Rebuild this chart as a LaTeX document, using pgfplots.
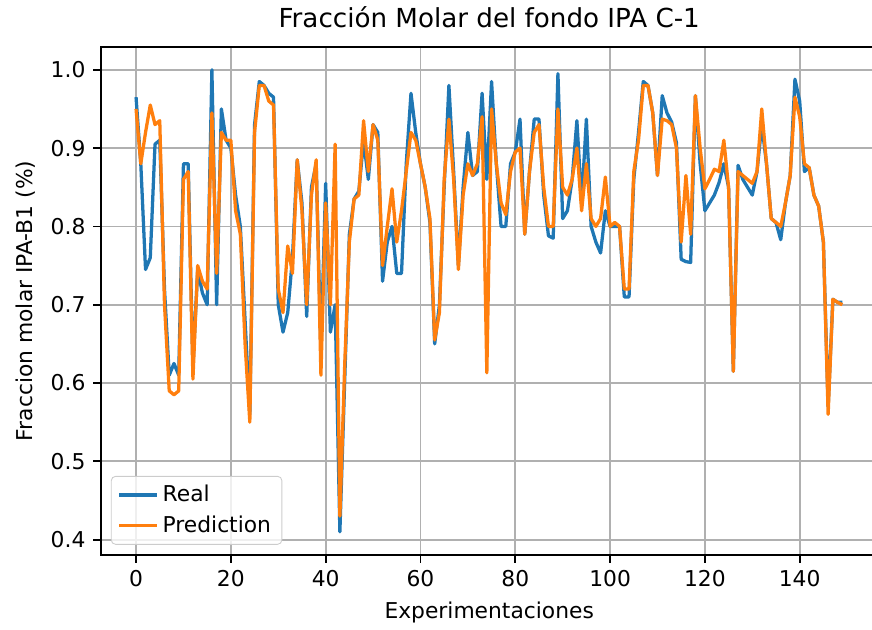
\documentclass[border=0pt]{standalone}
\usepackage{pgfplots}
\usepackage{pgfplotstable}
\usepackage{fontspec}
\setmainfont{DejaVu Sans}
\pgfplotsset{compat=1.18}

\definecolor{mplblue}{HTML}{1F77B4}
\definecolor{mplorange}{HTML}{FF7F0E}
\definecolor{gridgray}{HTML}{B0B0B0}

% x: experiment index, R: measured value, P: model prediction
\pgfplotstableread{
x R P
0 0.965 0.950
1 0.880 0.880
2 0.745 0.920
3 0.760 0.955
4 0.905 0.930
5 0.910 0.935
6 0.720 0.700
7 0.610 0.590
8 0.625 0.585
9 0.610 0.590
10 0.880 0.860
11 0.880 0.870
12 0.620 0.605
13 0.745 0.750
14 0.715 0.730
15 0.700 0.720
16 1.000 0.945
17 0.700 0.740
18 0.950 0.920
19 0.910 0.910
20 0.900 0.910
21 0.840 0.820
22 0.800 0.790
23 0.680 0.650
24 0.560 0.550
25 0.930 0.920
26 0.985 0.980
27 0.980 0.980
28 0.970 0.960
29 0.965 0.955
30 0.700 0.720
31 0.665 0.690
32 0.690 0.775
33 0.760 0.740
34 0.885 0.885
35 0.830 0.820
36 0.685 0.700
37 0.850 0.840
38 0.880 0.885
39 0.640 0.610
40 0.855 0.830
41 0.665 0.700
42 0.700 0.905
43 0.410 0.430
44 0.600 0.620
45 0.790 0.780
46 0.835 0.835
47 0.845 0.840
48 0.910 0.935
49 0.860 0.870
50 0.930 0.930
51 0.920 0.910
52 0.730 0.750
53 0.780 0.800
54 0.800 0.848
55 0.740 0.780
56 0.740 0.820
57 0.880 0.870
58 0.970 0.920
59 0.920 0.910
60 0.880 0.880
61 0.850 0.850
62 0.805 0.810
63 0.650 0.655
64 0.700 0.690
65 0.850 0.860
66 0.980 0.937
67 0.870 0.860
68 0.750 0.745
69 0.850 0.840
70 0.920 0.880
71 0.865 0.865
72 0.870 0.880
73 0.970 0.940
74 0.860 0.613
75 0.985 0.950
76 0.880 0.880
77 0.800 0.830
78 0.800 0.815
79 0.880 0.870
80 0.895 0.895
81 0.937 0.900
82 0.790 0.790
83 0.870 0.870
84 0.937 0.920
85 0.937 0.930
86 0.840 0.850
87 0.788 0.800
88 0.785 0.800
89 0.995 0.950
90 0.810 0.850
91 0.820 0.840
92 0.860 0.860
93 0.935 0.900
94 0.830 0.820
95 0.937 0.880
96 0.800 0.810
97 0.780 0.800
98 0.766 0.810
99 0.820 0.863
100 0.800 0.800
101 0.800 0.805
102 0.800 0.800
103 0.710 0.720
104 0.710 0.720
105 0.860 0.870
106 0.920 0.910
107 0.985 0.980
108 0.980 0.980
109 0.945 0.945
110 0.865 0.865
111 0.967 0.937
112 0.945 0.935
113 0.933 0.930
114 0.907 0.900
115 0.758 0.780
116 0.755 0.865
117 0.754 0.790
118 0.967 0.967
119 0.880 0.900
120 0.820 0.848
121 0.830 0.860
122 0.840 0.873
123 0.856 0.870
124 0.880 0.910
125 0.850 0.850
126 0.615 0.615
127 0.878 0.870
128 0.860 0.865
129 0.850 0.860
130 0.840 0.855
131 0.870 0.870
132 0.930 0.950
133 0.880 0.880
134 0.810 0.810
135 0.805 0.805
136 0.783 0.800
137 0.830 0.830
138 0.865 0.865
139 0.988 0.965
140 0.960 0.940
141 0.870 0.880
142 0.875 0.875
143 0.840 0.840
144 0.826 0.826
145 0.780 0.780
146 0.570 0.560
147 0.707 0.707
148 0.703 0.703
149 0.703 0.700
}\fondo

\begin{document}
\begin{tikzpicture}
\begin{axis}[
  at={(0,0)}, anchor=south west,
  scale only axis,
  width=356.3pt, height=233.1pt,
  xmin=-7.45, xmax=156.45,
  ymin=0.3805, ymax=1.0295,
  xtick={0,20,...,140},
  ytick={0.4,0.5,...,1.0},
  yticklabel style={/pgf/number format/.cd, fixed, fixed zerofill, precision=1},
  /pgf/number format/assume math mode=true,
  tick label style={font=\fontsize{10}{12}\selectfont},
  label style={font=\fontsize{10}{12}\selectfont},
  title style={font=\fontsize{12}{14}\selectfont, yshift=-1pt},
  title={Fracción Molar del fondo IPA C-1},
  xlabel={Experimentaciones},
  ylabel={Fraccion molar IPA-B1 (\%)},
  grid=major,
  major grid style={color=gridgray, line width=0.8pt},
  axis line style={line width=0.8pt},
  tick style={black, line width=0.8pt},
  tick align=outside,
  major tick length=3.5pt,
  xtick pos=bottom, ytick pos=left,
  legend cell align=left,
  legend style={at={(0.013,0.02)}, anchor=south west,
    draw=gray!40, rounded corners=2pt, fill=white, fill opacity=0.8,
    text opacity=1, font=\fontsize{10}{12}\selectfont,
    row sep=1pt, inner xsep=3pt, inner ysep=2pt},
  legend image post style={line width=1.5pt},
]
\addplot[mplblue, line width=1.5pt, line join=round] table[x=x, y=R] {\fondo};
\addlegendentry{Real}
\addplot[mplorange, line width=1.5pt, line join=round] table[x=x, y=P] {\fondo};
\addlegendentry{Prediction}
\end{axis}
\pgfresetboundingbox
\path (-46.2pt,-34.4pt) rectangle (353.7pt,254.5pt);
\end{tikzpicture}
\end{document}
